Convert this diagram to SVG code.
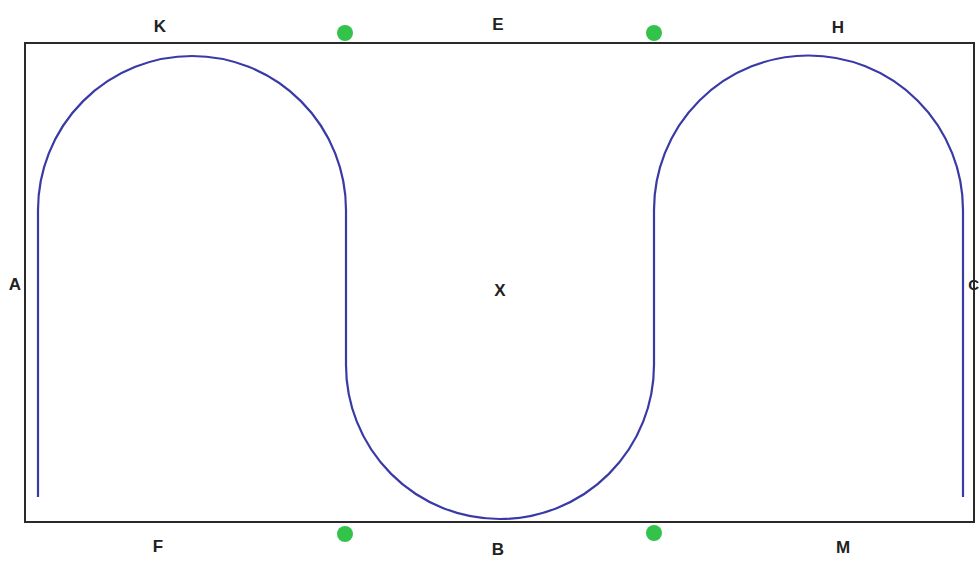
<svg xmlns="http://www.w3.org/2000/svg" width="980" height="565" viewBox="0 0 980 565">
<style>
.lbl{font-family:"Liberation Sans",Arial,sans-serif;font-weight:bold;font-size:17px;fill:#222;text-anchor:middle}
.dot{fill:#33c24a}
.track{fill:none;stroke:#3a3aa6;stroke-width:2.2}
</style>
<rect width="980" height="565" fill="#fff"/>
<g id="frame"><rect x="25" y="43" width="949" height="479" fill="none" stroke="#2a2a2a" stroke-width="2"/></g>
<g id="connectors">
<path class="track" d="M38 497 L38 210 A154 154 0 0 1 346 210 L346 365 A154 154 0 0 0 654 365 L654 210 A154.5 154.5 0 0 1 963 210 L963 497"/>
</g>
<g id="dot1"><circle class="dot" cx="345" cy="33" r="8"/></g>
<g id="dot2"><circle class="dot" cx="654" cy="33" r="8"/></g>
<g id="dot3"><circle class="dot" cx="345" cy="534" r="8"/></g>
<g id="dot4"><circle class="dot" cx="654" cy="533" r="8"/></g>
<g id="K"><text class="lbl" x="160" y="32">K</text></g>
<g id="E"><text class="lbl" x="498" y="30">E</text></g>
<g id="H"><text class="lbl" x="838" y="33">H</text></g>
<g id="F"><text class="lbl" x="158" y="552">F</text></g>
<g id="B"><text class="lbl" x="498" y="555">B</text></g>
<g id="M"><text class="lbl" x="843" y="553">M</text></g>
<g id="X"><text class="lbl" x="500" y="296">X</text></g>
<g id="A"><text class="lbl" x="15" y="290">A</text></g>
<g id="C"><text class="lbl" x="979" y="290" style="text-anchor:end;font-size:15px">C</text></g>
</svg>
